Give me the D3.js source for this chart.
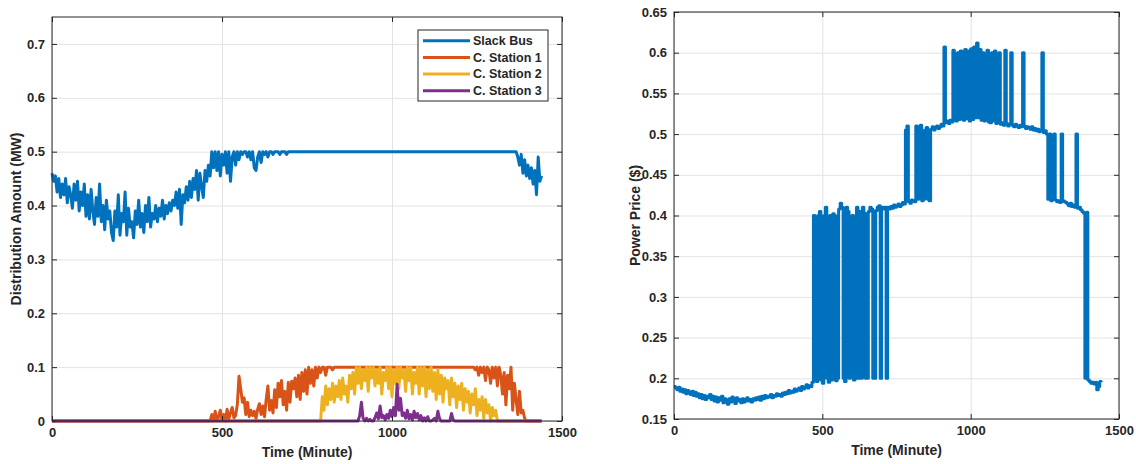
<!DOCTYPE html>
<html>
<head>
<meta charset="utf-8">
<script src="https://cdn.jsdelivr.net/npm/d3@7"></script>
<style>
  body { margin: 0; background: #fff; }
  svg text { font-family: "Liberation Sans", Arial, sans-serif; font-weight: bold; fill: #262626; }
  .grid line { stroke: #e3e3e3; stroke-width: 1; }
  .grid path { display: none; }
  .ax path, .ax line { stroke: #262626; }
</style>
</head>
<body>
<div id="chart"></div>
<script>
// sampling interval of every series below (minutes)
const step = 5

const xTicks = [0, 500, 1000, 1500]
const leftYTicks = [0, 0.1, 0.2, 0.3, 0.4, 0.5, 0.6, 0.7]
const rightYTicks = [0.15, 0.2, 0.25, 0.3, 0.35, 0.4, 0.45, 0.5, 0.55, 0.6, 0.65]

const seriesNames = ['Slack Bus', 'C. Station 1', 'C. Station 2', 'C. Station 3']
const seriesColors = ['#0072BD', '#D95319', '#EDB120', '#7E2F8E']

// Distribution amount (MW), one value per 5 minutes, 0..1440
const slackBus = [
  0.46, 0.445, 0.455, 0.425, 0.45, 0.415, 0.44, 0.42, 0.45, 0.405, 0.435, 0.42,
  0.395, 0.44, 0.41, 0.445, 0.39, 0.425, 0.40, 0.44, 0.38, 0.42, 0.375, 0.43,
  0.39, 0.365, 0.415, 0.38, 0.44, 0.37, 0.40, 0.355, 0.41, 0.375, 0.39, 0.35,
  0.335, 0.39, 0.36, 0.42, 0.345, 0.385, 0.37, 0.425, 0.345, 0.395, 0.36, 0.37,
  0.34, 0.39, 0.365, 0.41, 0.36, 0.385, 0.35, 0.40, 0.37, 0.415, 0.36, 0.385,
  0.375, 0.40, 0.37, 0.395, 0.38, 0.41, 0.375, 0.40, 0.385, 0.405, 0.39, 0.41,
  0.40, 0.425, 0.395, 0.43, 0.365, 0.42, 0.405, 0.435, 0.41, 0.445, 0.415, 0.45,
  0.43, 0.465, 0.41, 0.46, 0.435, 0.415, 0.465, 0.445, 0.475, 0.455, 0.50, 0.47,
  0.50, 0.465, 0.50, 0.455, 0.495, 0.475, 0.50, 0.46, 0.50, 0.445, 0.49, 0.50,
  0.475, 0.50, 0.485, 0.50, 0.495, 0.50, 0.50, 0.49, 0.50, 0.485, 0.50, 0.47,
  0.465, 0.49, 0.50, 0.48, 0.50, 0.495, 0.50, 0.49, 0.50, 0.50, 0.495, 0.50,
  0.50, 0.50, 0.495, 0.50, 0.50, 0.50, 0.495, 0.50, 0.50, 0.50, 0.50, 0.50,
  0.5, 0.5, 0.5, 0.5, 0.5, 0.5, 0.5, 0.5, 0.5, 0.5, 0.5, 0.5,
  0.5, 0.5, 0.5, 0.5, 0.5, 0.5, 0.5, 0.5, 0.5, 0.5, 0.5, 0.5,
  0.5, 0.5, 0.5, 0.5, 0.5, 0.5, 0.5, 0.5, 0.5, 0.5, 0.5, 0.5,
  0.5, 0.5, 0.5, 0.5, 0.5, 0.5, 0.5, 0.5, 0.5, 0.5, 0.5, 0.5,
  0.5, 0.5, 0.5, 0.5, 0.5, 0.5, 0.5, 0.5, 0.5, 0.5, 0.5, 0.5,
  0.5, 0.5, 0.5, 0.5, 0.5, 0.5, 0.5, 0.5, 0.5, 0.5, 0.5, 0.5,
  0.5, 0.5, 0.5, 0.5, 0.5, 0.5, 0.5, 0.5, 0.5, 0.5, 0.5, 0.5,
  0.5, 0.5, 0.5, 0.5, 0.5, 0.5, 0.5, 0.5, 0.5, 0.5, 0.5, 0.5,
  0.5, 0.5, 0.5, 0.5, 0.5, 0.5, 0.5, 0.5, 0.5, 0.5, 0.5, 0.5,
  0.5, 0.5, 0.5, 0.5, 0.5, 0.5, 0.5, 0.5, 0.5, 0.5, 0.5, 0.5,
  0.5, 0.5, 0.5, 0.5, 0.5, 0.5, 0.5, 0.5, 0.5, 0.5, 0.49, 0.475,
  0.495, 0.46, 0.485, 0.455, 0.475, 0.45, 0.47, 0.44, 0.465, 0.42, 0.49, 0.445,
  0.455
]

const station1 = [
  0, 0, 0, 0, 0, 0, 0, 0, 0, 0, 0, 0,
  0, 0, 0, 0, 0, 0, 0, 0, 0, 0, 0, 0,
  0, 0, 0, 0, 0, 0, 0, 0, 0, 0, 0, 0,
  0, 0, 0, 0, 0, 0, 0, 0, 0, 0, 0, 0,
  0, 0, 0, 0, 0, 0, 0, 0, 0, 0, 0, 0,
  0, 0, 0, 0, 0, 0, 0, 0, 0, 0, 0, 0,
  0, 0, 0, 0, 0, 0, 0, 0, 0, 0, 0, 0,
  0, 0, 0, 0, 0, 0, 0, 0, 0, 0, 0.012, 0,
  0.018, 0, 0.008, 0.02, 0, 0.012, 0, 0.022, 0.004, 0.015, 0.025, 0.006,
  0.01, 0.03, 0.083, 0.06, 0.035, 0.043, 0.012, 0.035, 0.008, 0.02, 0.01, 0.018,
  0.005, 0.022, 0.032, 0.012, 0.028, 0.008, 0.04, 0.065, 0.02, 0.038, 0.015, 0.058,
  0.025, 0.07, 0.045, 0.075, 0.03, 0.055, 0.02, 0.072, 0.035, 0.074, 0.06, 0.08,
  0.045, 0.085, 0.04, 0.09, 0.055, 0.095, 0.05, 0.1, 0.07, 0.095, 0.065, 0.1,
  0.08, 0.1, 0.09, 0.1, 0.1, 0.085, 0.1, 0.1, 0.1, 0.095, 0.1, 0.1,
  0.1, 0.1, 0.1, 0.1, 0.1, 0.1, 0.1, 0.1, 0.1, 0.1, 0.1, 0.1,
  0.1, 0.1, 0.1, 0.1, 0.1, 0.1, 0.1, 0.1, 0.1, 0.1, 0.1, 0.1,
  0.1, 0.1, 0.1, 0.1, 0.1, 0.1, 0.1, 0.1, 0.1, 0.1, 0.1, 0.1,
  0.1, 0.1, 0.1, 0.1, 0.1, 0.1, 0.1, 0.1, 0.1, 0.1, 0.1, 0.1,
  0.1, 0.1, 0.1, 0.1, 0.1, 0.1, 0.1, 0.1, 0.1, 0.1, 0.1, 0.1,
  0.1, 0.1, 0.1, 0.1, 0.1, 0.1, 0.1, 0.1, 0.1, 0.1, 0.1, 0.1,
  0.1, 0.1, 0.1, 0.1, 0.1, 0.1, 0.1, 0.1, 0.1, 0.095, 0.1, 0.085,
  0.1, 0.09, 0.1, 0.075, 0.1, 0.095, 0.07, 0.1, 0.08, 0.1, 0.065, 0.1,
  0.085, 0.05, 0.09, 0.03, 0.085, 0.06, 0.1, 0.02, 0.07, 0.04, 0.012, 0.055,
  0.015, 0.02, 0.005, 0, 0, 0, 0, 0, 0, 0, 0, 0,
  0
]

const station2 = [
  0, 0, 0, 0, 0, 0, 0, 0, 0, 0, 0, 0,
  0, 0, 0, 0, 0, 0, 0, 0, 0, 0, 0, 0,
  0, 0, 0, 0, 0, 0, 0, 0, 0, 0, 0, 0,
  0, 0, 0, 0, 0, 0, 0, 0, 0, 0, 0, 0,
  0, 0, 0, 0, 0, 0, 0, 0, 0, 0, 0, 0,
  0, 0, 0, 0, 0, 0, 0, 0, 0, 0, 0, 0,
  0, 0, 0, 0, 0, 0, 0, 0, 0, 0, 0, 0,
  0, 0, 0, 0, 0, 0, 0, 0, 0, 0, 0, 0,
  0, 0, 0, 0, 0, 0, 0, 0, 0, 0, 0, 0,
  0, 0, 0, 0, 0, 0, 0, 0, 0, 0, 0, 0,
  0, 0, 0, 0, 0, 0, 0, 0, 0, 0, 0, 0,
  0, 0, 0, 0, 0, 0, 0, 0, 0, 0, 0, 0,
  0, 0, 0, 0, 0, 0, 0, 0, 0, 0, 0, 0,
  0, 0, 0, 0.045, 0.02, 0.065, 0.03, 0.06, 0.04, 0.07, 0.035, 0.065,
  0.045, 0.075, 0.04, 0.08, 0.05, 0.065, 0.035, 0.085, 0.06, 0.09, 0.05, 0.1,
  0.07, 0.1, 0.06, 0.095, 0.075, 0.1, 0.055, 0.1, 0.08, 0.1, 0.065, 0.095,
  0.07, 0.1, 0.05, 0.09, 0.075, 0.1, 0.06, 0.1, 0.045, 0.095, 0.07, 0.1,
  0.06, 0.1, 0.08, 0.095, 0.055, 0.1, 0.075, 0.1, 0.05, 0.09, 0.07, 0.1,
  0.05, 0.1, 0.065, 0.1, 0.045, 0.095, 0.06, 0.1, 0.055, 0.09, 0.04, 0.095,
  0.05, 0.085, 0.035, 0.08, 0.06, 0.075, 0.03, 0.08, 0.045, 0.07, 0.025, 0.065,
  0.04, 0.07, 0.02, 0.06, 0.035, 0.055, 0.015, 0.05, 0.03, 0.06, 0.01, 0.04,
  0.02, 0.045, 0.005, 0.04, 0.015, 0.03, 0, 0.025, 0.01, 0.02, 0, 0,
  0, 0, 0, 0, 0, 0, 0, 0, 0, 0, 0, 0,
  0, 0, 0, 0, 0, 0, 0, 0, 0, 0, 0, 0,
  0
]

const station3 = [
  0, 0, 0, 0, 0, 0, 0, 0, 0, 0, 0, 0,
  0, 0, 0, 0, 0, 0, 0, 0, 0, 0, 0, 0,
  0, 0, 0, 0, 0, 0, 0, 0, 0, 0, 0, 0,
  0, 0, 0, 0, 0, 0, 0, 0, 0, 0, 0, 0,
  0, 0, 0, 0, 0, 0, 0, 0, 0, 0, 0, 0,
  0, 0, 0, 0, 0, 0, 0, 0, 0, 0, 0, 0,
  0, 0, 0, 0, 0, 0, 0, 0, 0, 0, 0, 0,
  0, 0, 0, 0, 0, 0, 0, 0, 0, 0, 0, 0,
  0, 0, 0, 0, 0, 0, 0, 0, 0, 0, 0, 0,
  0, 0, 0, 0, 0, 0, 0, 0, 0, 0, 0, 0,
  0, 0, 0, 0, 0, 0, 0, 0, 0, 0, 0, 0,
  0, 0, 0, 0, 0, 0, 0, 0, 0, 0, 0, 0,
  0, 0, 0, 0, 0, 0, 0, 0, 0, 0, 0, 0,
  0, 0, 0, 0, 0, 0, 0, 0, 0, 0, 0, 0,
  0, 0, 0, 0, 0, 0, 0, 0, 0, 0, 0, 0,
  0, 0.01, 0.035, 0.005, 0, 0.005, 0, 0.003, 0, 0, 0.006, 0.015,
  0.004, 0.028, 0.006, 0.01, 0.002, 0.012, 0.005, 0.02, 0.008, 0.025, 0.01, 0.068,
  0.02, 0.042, 0.01, 0.015, 0.005, 0.02, 0.004, 0.012, 0.002, 0.018, 0.006, 0.014,
  0.002, 0.01, 0, 0.006, 0, 0.008, 0, 0, 0.002, 0.005, 0, 0.018,
  0.004, 0, 0, 0, 0, 0, 0, 0.014, 0.002, 0, 0, 0,
  0, 0, 0, 0, 0, 0, 0, 0, 0, 0, 0, 0,
  0, 0, 0, 0, 0, 0, 0, 0, 0, 0, 0, 0,
  0, 0, 0, 0, 0, 0, 0, 0, 0, 0, 0, 0,
  0, 0, 0, 0, 0, 0, 0, 0, 0, 0, 0, 0,
  0
]

// Power price ($), one value per 5 minutes, 0..1440
const powerPrice = [
  0.19, 0.188, 0.186, 0.189, 0.184, 0.187, 0.183, 0.186, 0.181, 0.185, 0.182, 0.18,
  0.184, 0.179, 0.183, 0.178, 0.181, 0.176, 0.18, 0.175, 0.179, 0.174, 0.178, 0.176,
  0.18, 0.174, 0.178, 0.172, 0.177, 0.171, 0.176, 0.173, 0.178, 0.17, 0.175, 0.172,
  0.168, 0.175, 0.171, 0.177, 0.173, 0.169, 0.176, 0.172, 0.174, 0.17, 0.175, 0.171,
  0.173, 0.176, 0.172, 0.174, 0.171, 0.175, 0.173, 0.176, 0.174, 0.177, 0.173, 0.178,
  0.175, 0.179, 0.176, 0.178, 0.177, 0.18, 0.176, 0.179, 0.178, 0.181, 0.179, 0.18,
  0.178, 0.182, 0.18, 0.183, 0.181, 0.185, 0.182, 0.184, 0.183, 0.187, 0.184, 0.186,
  0.188, 0.185, 0.19, 0.187, 0.189, 0.192, 0.188, 0.191, 0.19, 0.195, 0.4, 0.2,
  0.196, 0.4, 0.405, 0.198, 0.194, 0.4, 0.41, 0.2, 0.195, 0.4, 0.198, 0.402,
  0.4, 0.197, 0.2, 0.408, 0.415, 0.41, 0.2, 0.196, 0.41, 0.405, 0.2, 0.202,
  0.4, 0.198, 0.2, 0.41, 0.2, 0.405, 0.2, 0.41, 0.403, 0.2, 0.2, 0.405,
  0.41, 0.408, 0.2, 0.2, 0.406, 0.41, 0.412, 0.2, 0.41, 0.408, 0.41, 0.2,
  0.41, 0.408, 0.411, 0.409, 0.413, 0.41, 0.412, 0.414, 0.411, 0.413, 0.416, 0.414,
  0.505, 0.51, 0.417, 0.415, 0.419, 0.418, 0.417, 0.51, 0.42, 0.508, 0.511, 0.418,
  0.42, 0.505, 0.508, 0.42, 0.418, 0.506, 0.509, 0.505, 0.508, 0.51, 0.507, 0.509,
  0.512, 0.51, 0.607, 0.514, 0.516, 0.513, 0.517, 0.515, 0.603, 0.518, 0.516, 0.6,
  0.518, 0.602, 0.6, 0.517, 0.604, 0.519, 0.602, 0.516, 0.605, 0.518, 0.607, 0.52,
  0.612, 0.52, 0.604, 0.517, 0.6, 0.516, 0.518, 0.603, 0.515, 0.514, 0.6, 0.516,
  0.602, 0.513, 0.515, 0.6, 0.512, 0.514, 0.511, 0.603, 0.513, 0.51, 0.512, 0.6,
  0.511, 0.509, 0.512, 0.51, 0.508, 0.511, 0.509, 0.6, 0.51, 0.507, 0.509, 0.508,
  0.506, 0.509, 0.505, 0.507, 0.504, 0.506, 0.503, 0.505, 0.6, 0.502, 0.504, 0.5,
  0.42, 0.5, 0.418, 0.42, 0.5, 0.419, 0.417, 0.418, 0.416, 0.5, 0.418, 0.417,
  0.416, 0.414, 0.412, 0.415, 0.411, 0.413, 0.41, 0.5, 0.409, 0.41, 0.407, 0.405,
  0.403, 0.2, 0.404, 0.198, 0.196, 0.194, 0.195, 0.193, 0.195, 0.186, 0.19, 0.196,
  0.195
]

const W = 1136
const H = 464

const svg = d3.select('#chart').append('svg')
  .attr('width', W)
  .attr('height', H)

function drawPanel (cfg) {
  const x = d3.scaleLinear().domain([0, 1500]).range([cfg.left, cfg.right])
  const y = d3.scaleLinear().domain(cfg.yDomain).range([cfg.bottom, cfg.top])
  const g = svg.append('g')
  const fmt = d => String(+d.toFixed(2))

  // grid
  g.append('g')
    .attr('class', 'grid')
    .attr('transform', 'translate(0,' + cfg.bottom + ')')
    .call(d3.axisBottom(x).tickValues(xTicks).tickSize(-(cfg.bottom - cfg.top)).tickFormat(''))
  g.append('g')
    .attr('class', 'grid')
    .attr('transform', 'translate(' + cfg.left + ',0)')
    .call(d3.axisLeft(y).tickValues(cfg.yTicks).tickSize(-(cfg.right - cfg.left)).tickFormat(''))

  // data
  const line = d3.line()
    .x((d, i) => x(i * step))
    .y(d => y(d))
    .curve(cfg.curve || d3.curveLinear)
  cfg.series.forEach((s, i) => {
    g.append('path')
      .datum(s)
      .attr('fill', 'none')
      .attr('stroke', cfg.colors[i])
      .attr('stroke-width', 3)
      .attr('stroke-linejoin', 'round')
      .attr('d', line)
  })

  // axes (ticks pointing inward on all four sides)
  g.append('g').attr('class', 'ax')
    .attr('transform', 'translate(0,' + cfg.bottom + ')')
    .call(d3.axisBottom(x).tickValues(xTicks).tickSizeInner(-5).tickSizeOuter(0).tickPadding(7).tickFormat(d => String(d)))
    .selectAll('text').style('font-size', '13px').attr('fill', '#262626')
  g.append('g').attr('class', 'ax')
    .attr('transform', 'translate(0,' + cfg.top + ')')
    .call(d3.axisTop(x).tickValues(xTicks).tickSizeInner(-5).tickSizeOuter(0).tickFormat(''))
  g.append('g').attr('class', 'ax')
    .attr('transform', 'translate(' + cfg.left + ',0)')
    .call(d3.axisLeft(y).tickValues(cfg.yTicks).tickSizeInner(-5).tickSizeOuter(0).tickPadding(7).tickFormat(fmt))
    .selectAll('text').style('font-size', '13px').attr('fill', '#262626')
  g.append('g').attr('class', 'ax')
    .attr('transform', 'translate(' + cfg.right + ',0)')
    .call(d3.axisRight(y).tickValues(cfg.yTicks).tickSizeInner(-5).tickSizeOuter(0).tickFormat(''))
  g.selectAll('.ax .domain').remove()

  g.append('rect')
    .attr('x', cfg.left)
    .attr('y', cfg.top)
    .attr('width', cfg.right - cfg.left)
    .attr('height', cfg.bottom - cfg.top)
    .attr('fill', 'none')
    .attr('stroke', '#262626')
    .attr('stroke-width', 1)

  // axis titles
  g.append('text')
    .attr('x', (cfg.left + cfg.right) / 2)
    .attr('y', cfg.bottom + 36)
    .attr('text-anchor', 'middle')
    .style('font-size', '14px')
    .text('Time (Minute)')
  g.append('text')
    .attr('transform', 'translate(' + cfg.yLabelX + ',' + (cfg.top + cfg.bottom) / 2 + ') rotate(-90)')
    .attr('text-anchor', 'middle')
    .style('font-size', '14px')
    .text(cfg.yLabel)

  return { x, y, g }
}

const left = drawPanel({
  left: 52, right: 562, top: 17, bottom: 421,
  yDomain: [0, 0.75], yTicks: leftYTicks,
  series: [slackBus, station1, station2, station3],
  colors: seriesColors,
  yLabel: 'Distribution Amount (MW)', yLabelX: 21
})

// price jumps between levels within a minute, so draw it as steps
drawPanel({
  left: 674, right: 1119, top: 12, bottom: 419,
  yDomain: [0.15, 0.65], yTicks: rightYTicks,
  series: [powerPrice],
  colors: [seriesColors[0]],
  curve: d3.curveStepAfter,
  yLabel: 'Power Price ($)', yLabelX: 640
})

// legend
const legend = left.g.append('g').attr('transform', 'translate(418,30)')
legend.append('rect')
  .attr('width', 130)
  .attr('height', 71)
  .attr('fill', '#fff')
  .attr('stroke', '#262626')
  .attr('stroke-width', 1)
seriesNames.forEach((name, i) => {
  const row = legend.append('g').attr('transform', 'translate(0,' + (10.7 + i * 16.7) + ')')
  row.append('line')
    .attr('x1', 5).attr('x2', 52)
    .attr('stroke', seriesColors[i])
    .attr('stroke-width', 3)
  row.append('text')
    .attr('x', 55)
    .attr('dy', '0.35em')
    .style('font-size', '12.5px')
    .text(name)
})
</script>
</body>
</html>
